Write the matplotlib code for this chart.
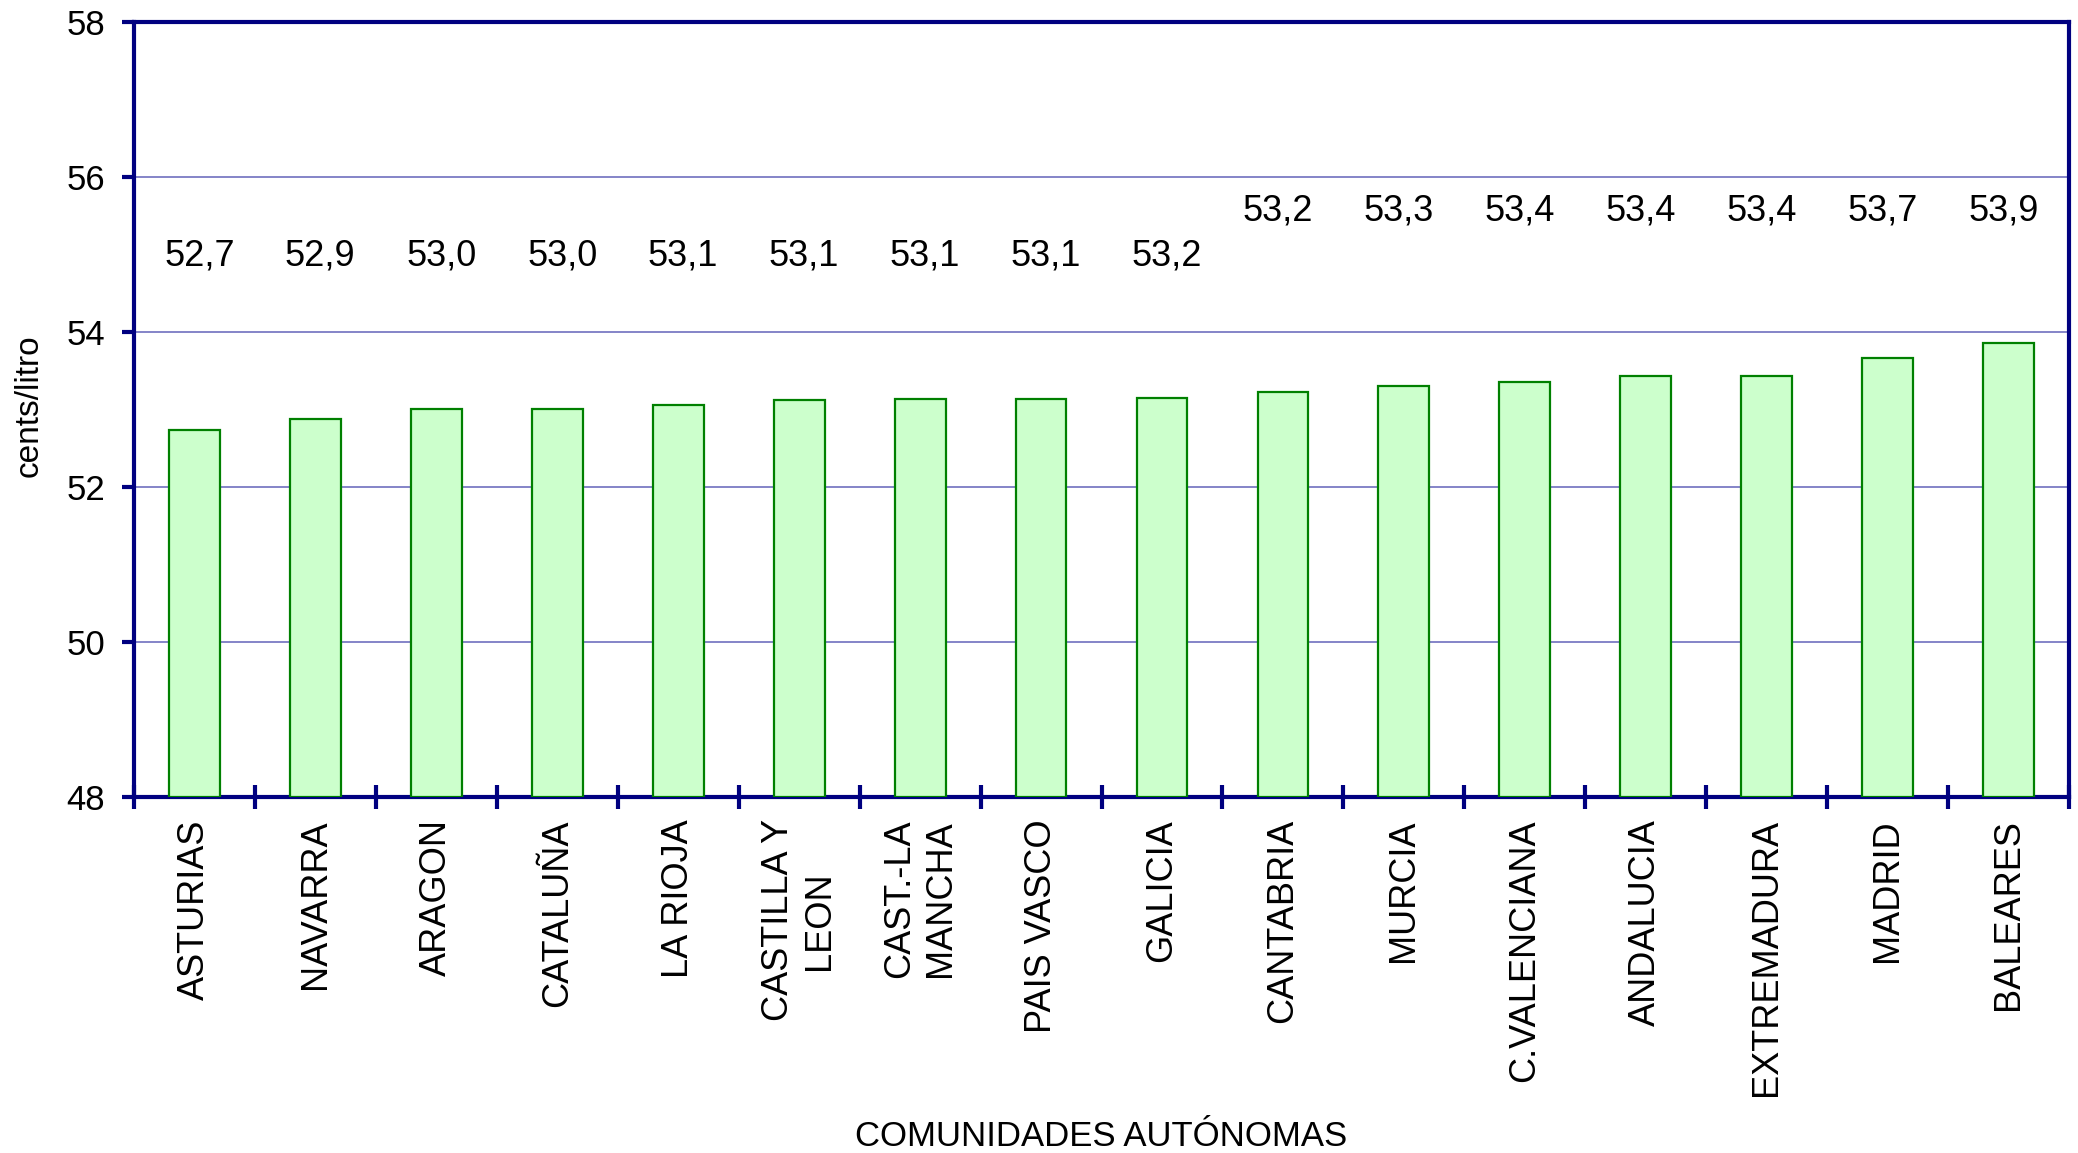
import matplotlib
matplotlib.use("Agg")
import matplotlib.pyplot as plt
import numpy as np

categories = ["ASTURIAS", "NAVARRA", "ARAGON", "CATALUÑA", "LA RIOJA",
              "CASTILLA Y\nLEON", "CAST.-LA\nMANCHA", "PAIS VASCO", "GALICIA",
              "CANTABRIA", "MURCIA", "C.VALENCIANA", "ANDALUCIA", "EXTREMADURA",
              "MADRID", "BALEARES"]
values = [52.73, 52.88, 53.00, 53.00, 53.06, 53.12, 53.14, 53.14, 53.15,
          53.23, 53.30, 53.35, 53.43, 53.43, 53.67, 53.86]
value_labels = ["52,7", "52,9", "53,0", "53,0", "53,1", "53,1", "53,1", "53,1",
                "53,2", "53,2", "53,3", "53,4", "53,4", "53,4", "53,7", "53,9"]
y_ticks = [48, 50, 52, 54, 56, 58]

plt.rcParams['font.family'] = ['Liberation Sans', 'DejaVu Sans']

navy = "#000080"
fig = plt.figure(figsize=(20.78, 11.53), dpi=100)
ax = fig.add_axes([0.0645, 0.3088, 0.9312, 0.6722])

x = np.arange(len(categories))
ax.bar(x, [v - 48 for v in values], bottom=48, width=0.42,
       color="#ccffcc", edgecolor="#008000", linewidth=1.6, zorder=3)

ax.set_xlim(-0.5, len(categories) - 0.5)
ax.set_ylim(48, 58)
ax.set_yticks(y_ticks)
ax.set_yticklabels([str(t) for t in y_ticks])
ax.yaxis.grid(True, color="#6f6fbf", linewidth=1.2, zorder=0)
ax.set_axisbelow(True)

ax.set_xticks(x)
ax.set_xticklabels(categories, rotation=90, fontsize=26, ha="center",
                   va="top", multialignment="center")
ax.set_xticks(np.arange(len(categories) + 1) - 0.5, minor=True)
ax.tick_params(axis="x", which="major", length=0, pad=16)
ax.tick_params(axis="x", which="minor", direction="inout", length=17,
               width=3, color=navy)
ax.tick_params(axis="y", direction="out", length=9, width=3, color=navy,
               labelsize=25, pad=12)

for s in ax.spines.values():
    s.set_color(navy)
    s.set_linewidth(3)

label_y = [54.98 if i < 9 else 55.56 for i in range(len(categories))]
label_dx = [0.04 if i < 9 else -0.04 for i in range(len(categories))]
for xi, ly, dx, lab in zip(x, label_y, label_dx, value_labels):
    ax.text(xi + dx, ly, lab, ha="center", va="center", fontsize=26)

ax_box = ax.get_position()
fig.text((ax_box.x0 + ax_box.x1) / 2, 0.0145, "COMUNIDADES AUTÓNOMAS",
         ha="center", va="center", fontsize=25)
fig.text(0.014, 0.648, "cents/litro", rotation=90, ha="center", va="center",
         fontsize=24)

fig.savefig("out.png", dpi=100)
